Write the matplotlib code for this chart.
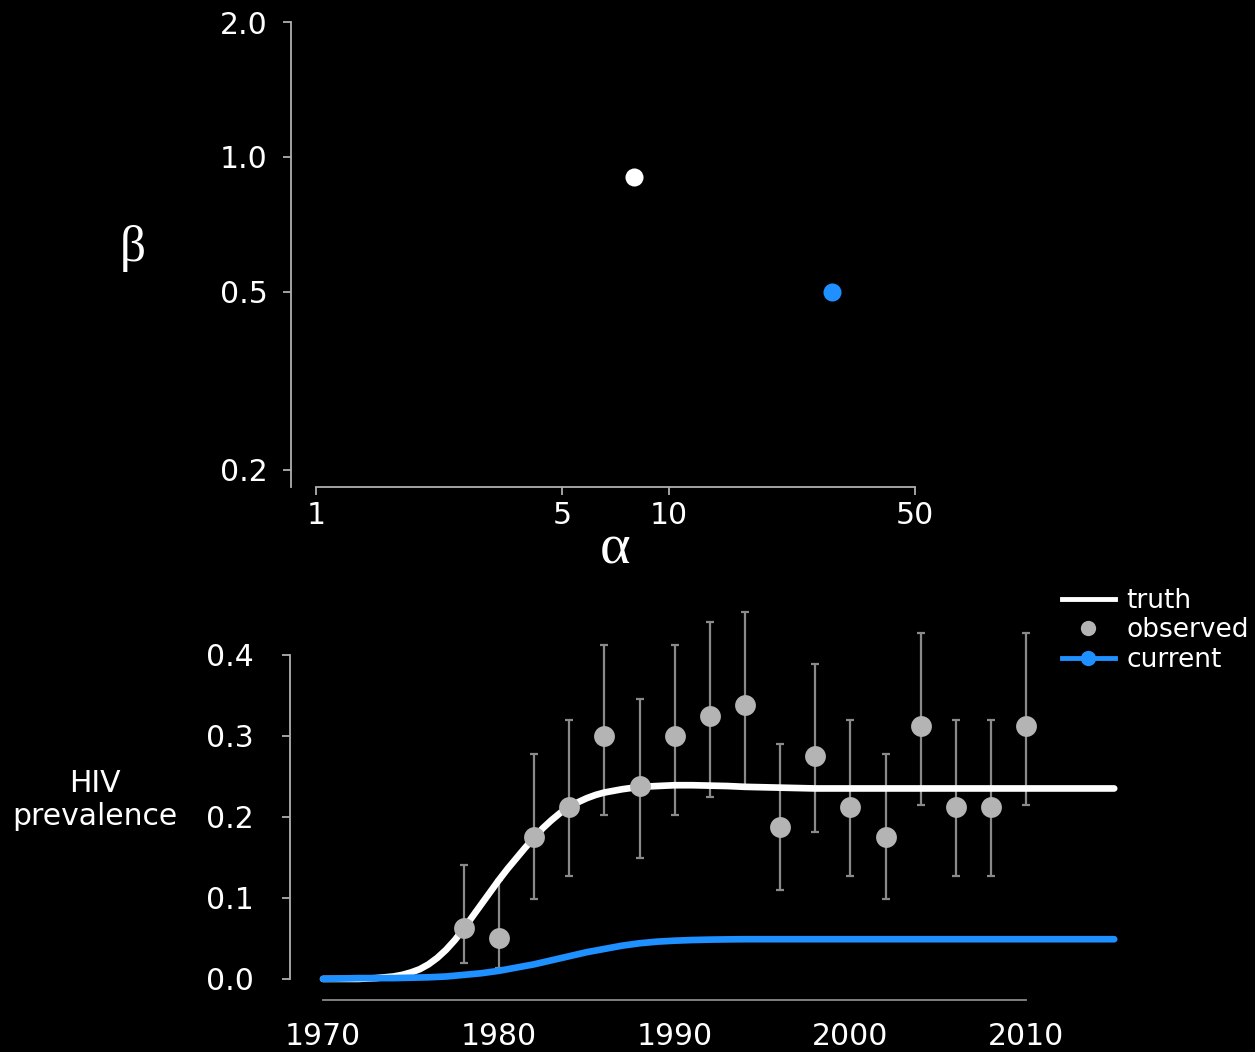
import matplotlib
matplotlib.use('Agg')
import matplotlib.pyplot as plt
from matplotlib.lines import Line2D

# top panel: parameter space (log-log)
ALPHA_TRUTH, BETA_TRUTH = 8.0, 0.9
ALPHA_CURRENT, BETA_CURRENT = 29.0, 0.5
ALPHA_TICKS = [1, 5, 10, 50]
BETA_TICKS = [0.2, 0.5, 1.0, 2.0]

# bottom panel: prevalence over time
TRUTH_YEARS = [1970, 1971, 1972, 1972.5, 1973, 1973.5, 1974, 1974.5, 1975, 1975.5,
               1976, 1976.5, 1977, 1977.5, 1978, 1978.5, 1979, 1979.5, 1980, 1980.5,
               1981, 1981.5, 1982, 1982.5, 1983, 1983.5, 1984, 1984.5, 1985, 1985.5,
               1986, 1987, 1988, 1989, 1990, 1991, 1992, 1993, 1994, 1995,
               1996, 1997, 1998, 2000, 2005, 2010, 2015]
TRUTH = [0.000, 0.000, 0.000, 0.0005, 0.001, 0.002, 0.003, 0.005, 0.008, 0.012,
         0.018, 0.026, 0.036, 0.048, 0.062, 0.077, 0.092, 0.107, 0.122, 0.136,
         0.149, 0.162, 0.174, 0.186, 0.196, 0.205, 0.212, 0.218, 0.223, 0.227,
         0.230, 0.234, 0.237, 0.238, 0.239, 0.239, 0.2385, 0.238, 0.237, 0.2365,
         0.236, 0.2355, 0.235, 0.235, 0.235, 0.235, 0.235]

CURRENT_YEARS = [1970, 1972, 1974, 1976, 1977, 1978, 1979, 1980, 1981, 1982,
                 1983, 1984, 1985, 1986, 1987, 1988, 1989, 1990, 1991, 1992,
                 1993, 1994, 1995, 2000, 2005, 2010, 2015]
CURRENT = [0.000, 0.001, 0.001, 0.002, 0.003, 0.005, 0.007, 0.010, 0.014, 0.018,
           0.023, 0.028, 0.033, 0.037, 0.041, 0.044, 0.046, 0.0472, 0.048, 0.0485,
           0.0488, 0.049, 0.049, 0.049, 0.049, 0.049, 0.049]

OBS_YEARS = [1978, 1980, 1982, 1984, 1986, 1988, 1990, 1992, 1994,
             1996, 1998, 2000, 2002, 2004, 2006, 2008, 2010]
OBS_VALUE = [0.0625, 0.050, 0.175, 0.2125, 0.300, 0.2375, 0.300, 0.325, 0.3375,
             0.1875, 0.275, 0.2125, 0.175, 0.3125, 0.2125, 0.2125, 0.3125]
OBS_LOW = [0.020, 0.014, 0.099, 0.127, 0.202, 0.149, 0.202, 0.225, 0.236,
           0.110, 0.181, 0.127, 0.099, 0.214, 0.127, 0.127, 0.214]
OBS_HIGH = [0.141, 0.122, 0.277, 0.320, 0.412, 0.346, 0.412, 0.440, 0.453,
            0.290, 0.388, 0.320, 0.277, 0.427, 0.320, 0.320, 0.427]
YEAR_TICKS = [1970, 1980, 1990, 2000, 2010]
PREV_TICKS = [0.0, 0.1, 0.2, 0.3, 0.4]

BLUE = '#1E90FF'
GREY = '#b4b4b4'
BAR_GREY = '#8a8a8a'
AXIS_GREY = '#b0b0b0'
FONT = 'DejaVu Sans'
TICK_SIZE = 21.5

W, H = 1255, 1052


def style_axes(ax):
    ax.set_facecolor('black')
    for side in ('top', 'right'):
        ax.spines[side].set_visible(False)
    for side in ('left', 'bottom'):
        ax.spines[side].set_color(AXIS_GREY)
        ax.spines[side].set_linewidth(1.3)
    ax.tick_params(colors=AXIS_GREY, labelcolor='white', labelsize=TICK_SIZE,
                   length=6, width=1.3, direction='out')
    ax.minorticks_off()


def main():
    plt.rcParams['font.family'] = [FONT]
    fig = plt.figure(figsize=(W / 100, H / 100), dpi=100)
    fig.patch.set_facecolor('black')

    # ---- top panel
    ax1 = fig.add_axes([291 / W, 1 - 487 / H, (915 - 291) / W, (487 - 22) / H])
    style_axes(ax1)
    ax1.set_xscale('log')
    ax1.set_yscale('log')
    ax1.set_xlim(0.849, 50)
    ax1.set_ylim(0.183, 2.0)
    ax1.spines['bottom'].set_bounds(1, 50)
    ax1.plot([ALPHA_TRUTH], [BETA_TRUTH], 'o', color='white', ms=13, mec='none')
    ax1.plot([ALPHA_CURRENT], [BETA_CURRENT], 'o', color=BLUE, ms=13, mec='none')
    ax1.set_xticks(ALPHA_TICKS)
    ax1.set_xticklabels([str(a) for a in ALPHA_TICKS])
    ax1.set_yticks(BETA_TICKS)
    ax1.set_yticklabels(['%.1f' % b for b in BETA_TICKS])
    ax1.minorticks_off()
    ax1.tick_params(axis='x', pad=4)
    ax1.tick_params(axis='y', pad=11)

    fig.text(133 / W, 1 - 249 / H, '\u03b2', color='white', fontsize=37,
             family='Liberation Serif', ha='center', va='center')
    fig.text(615 / W, 1 - 550 / H, '\u03b1', color='white', fontsize=42,
             family='Liberation Serif', ha='center', va='center')

    # ---- bottom panel
    ax2 = fig.add_axes([290 / W, 1 - 1000 / H, (1123 - 290) / W, (1000 - 598) / H])
    style_axes(ax2)
    ax2.set_xlim(1968.12, 2015.5)
    ax2.set_ylim(-0.026, 0.47)
    ax2.spines['left'].set_bounds(0, 0.4)
    ax2.spines['bottom'].set_bounds(1970, 2010)
    ax2.spines['bottom'].set_color('#8a8a8a')

    lo = [v - l for v, l in zip(OBS_VALUE, OBS_LOW)]
    hi = [h - v for v, h in zip(OBS_VALUE, OBS_HIGH)]
    ax2.errorbar(OBS_YEARS, OBS_VALUE, yerr=[lo, hi], fmt='none',
                 ecolor=BAR_GREY, elinewidth=1.6, capsize=3, capthick=1.6, zorder=1)
    ax2.plot(TRUTH_YEARS, TRUTH, color='white', lw=4.8, solid_capstyle='round',
             solid_joinstyle='round', zorder=2)
    ax2.plot(CURRENT_YEARS, CURRENT, color=BLUE, lw=4.8, solid_capstyle='round',
             solid_joinstyle='round', zorder=3)
    ax2.plot(OBS_YEARS, OBS_VALUE, 'o', color=GREY, ms=15, mec='none', zorder=4)

    ax2.set_xticks(YEAR_TICKS)
    ax2.set_yticks(PREV_TICKS)
    ax2.set_yticklabels(['%.1f' % p for p in PREV_TICKS])
    ax2.tick_params(axis='x', length=0, pad=16)
    ax2.tick_params(axis='y', pad=20)

    fig.text(95 / W, 1 - 800 / H, 'HIV\nprevalence', color='white',
             fontsize=TICK_SIZE, ha='center', va='center', linespacing=1.15)

    handles = [
        Line2D([], [], color='white', lw=3.5),
        Line2D([], [], color=GREY, lw=0, marker='o', ms=11, mec='none'),
        Line2D([], [], color=BLUE, lw=3.5, marker='o', ms=11, mec='none'),
    ]
    fig.legend(handles, ['truth', 'observed', 'current'],
               loc='upper left', bbox_to_anchor=(1062 / W, 1 - 588 / H),
               frameon=False, fontsize=19, labelcolor='white',
               handlelength=2.0, handletextpad=0.45, labelspacing=0.13,
               borderpad=0, borderaxespad=0)

    fig.savefig('out.png', dpi=100, facecolor='black')


if __name__ == "__main__":
    main()
